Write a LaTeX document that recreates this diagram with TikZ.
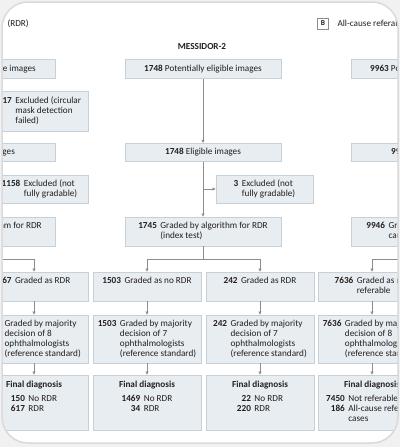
\documentclass[tikz,border=0pt]{standalone}
\usepackage{fontspec}
\setmainfont{Carlito}
\usetikzlibrary{arrows.meta}
\definecolor{bxfill}{RGB}{231,237,240}
\definecolor{bxdraw}{RGB}{198,208,214}
\definecolor{ln}{RGB}{140,140,140}
\definecolor{txt}{RGB}{35,31,32}
\definecolor{outer}{RGB}{241,241,241}
\definecolor{cardline}{RGB}{218,218,218}
\newcommand{\tb}[1]{\begin{tabular}[t]{@{}r@{\hspace{3.5pt}}l@{}}#1\end{tabular}}
\begin{document}
\begin{tikzpicture}[x=1pt,y=-1pt,
  every node/.style={font=\fontsize{9.2}{10}\selectfont, text=txt},
  bx/.style={draw=bxdraw, fill=bxfill, line width=0.8pt, inner sep=0pt},
  wide/.style={bx, minimum width=156pt, minimum height=18.5pt},
  tall/.style={bx, minimum width=156pt, minimum height=29pt},
  exc/.style={bx, minimum width=97pt, minimum height=28pt},
  col/.style={bx, minimum width=108pt},
  conn/.style={draw=ln, line width=0.6pt},
  arr/.style={conn, -{Triangle[length=3pt,width=3pt]}}
]
\useasboundingbox (0,0) rectangle (400,447);
\fill[outer] (0,0) rectangle (400,447);
\fill[white, rounded corners=26pt] (2,2) rectangle (398,443);
\begin{scope}
\clip[rounded corners=26pt] (2,2) rectangle (398,443);
% header
\node[anchor=base west] (hA) at (4,27) {(RDR)};
\node[draw=ln, fill=white, line width=0.6pt, inner sep=0pt, minimum size=11pt, font=\fontsize{7.5}{9}\selectfont\bfseries] (hB) at (323,23.5) {B};
\node[anchor=base west] (hBt) at (334,27) {All-cause referable DR};
\node[font=\fontsize{9.2}{10}\selectfont\bfseries] (title) at (202,47) {MESSIDOR-2};
% row 1
\node[wide] (L1) at (-23,69) {\phantom{\textbf{0000}} Potentially eligible images};
\node[wide] (M1) at (203,69) {\textbf{1748} Potentially eligible images};
\node[wide] (R1) at (429,69) {\textbf{9963} Potentially eligible images};
\node[exc, minimum height=40pt] (LX1) at (39.5,111) {\tb{\phantom{\textbf{0}}\textbf{17} & Excluded (circular\\ & mask detection\\ & failed)}};
% row 2
\node[wide] (L2) at (-23,152.5) {\phantom{\textbf{0000}} Eligible images};
\node[wide] (M2) at (203,152.5) {\textbf{1748} Eligible images};
\node[wide] (R2) at (429,152.5) {\textbf{9963} Eligible images};
\node[exc] (LX2) at (39.5,189) {\tb{\textbf{1158} & Excluded (not\\ & fully gradable)}};
\node[exc] (MX2) at (264.5,189) {\tb{\textbf{3} & Excluded (not\\ & fully gradable)}};
% row 3
\node[tall] (L3) at (-23,231.5) {\tb{\phantom{\textbf{0000}} & Graded by algorithm for RDR\\ & (index test)}};
\node[tall] (M3) at (203,231.5) {\tb{\textbf{1745} & Graded by algorithm for RDR\\ & (index test)}};
\node[tall] (R3) at (429,231.5) {\tb{\textbf{9946} & Graded by algorithm for all-\\ & cause referable DR}};
% row 4
\node[col, minimum height=29pt] (L4) at (34,286.5) {\tb{\phantom{\textbf{0}}\textbf{67} & Graded as RDR\\ & }};
\node[col, minimum height=29pt] (B4) at (147,286.5) {\tb{\textbf{1503} & Graded as no RDR\\ & }};
\node[col, minimum height=29pt] (C4) at (260,286.5) {\tb{\textbf{242} & Graded as RDR\\ & }};
\node[col, minimum height=29pt] (R4) at (372,286.5) {\tb{\textbf{7636} & Graded as not\\ & referable}};
% row 5
\node[col, minimum height=48pt] (L5) at (34,339) {\tb{\phantom{\textbf{767}} & Graded by majority\\ & decision of 8\\ & ophthalmologists\\ & (reference standard)}};
\node[col, minimum height=48pt] (B5) at (147,339) {\tb{\textbf{1503} & Graded by majority\\ & decision of 7\\ & ophthalmologists\\ & (reference standard)}};
\node[col, minimum height=48pt] (C5) at (260,339) {\tb{\textbf{242} & Graded by majority\\ & decision of 7\\ & ophthalmologists\\ & (reference standard)}};
\node[col, minimum height=48pt] (R5) at (372,339) {\tb{\textbf{7636} & Graded by majority\\ & decision of 8\\ & ophthalmologists\\ & (reference standard)}};
% row 6
\node[col, minimum height=55pt, align=center] (L6) at (34,402.5) {\textbf{Final diagnosis}\\[4pt]\tb{\textbf{150} & No RDR\\ \textbf{617} & RDR\\ & }};
\node[col, minimum height=55pt, align=center] (B6) at (147,402.5) {\textbf{Final diagnosis}\\[4pt]\tb{\textbf{1469} & No RDR\\ \textbf{34} & RDR\\ & }};
\node[col, minimum height=55pt, align=center] (C6) at (260,402.5) {\textbf{Final diagnosis}\\[4pt]\tb{\textbf{22} & No RDR\\ \textbf{220} & RDR\\ & }};
\node[col, minimum height=55pt, align=center] (R6) at (372,402.5) {\textbf{Final diagnosis}\\[4pt]\tb{\textbf{7450} & Not referable\\ \textbf{186} & All-cause referable\\ & cases}};
% connectors: middle
\draw[arr] (M1.south) -- (M2.north);
\draw[arr] (M2.south) -- (M3.north);
\draw[arr] (M2.south |- MX2.west) -- (MX2.west);
\draw[conn] (M3.south) -- ++(0,13) coordinate (ms);
\draw[arr] (ms) -| (B4.north);
\draw[arr] (ms) -| (C4.north);
\draw[arr] (B4.south) -- (B5.north);
\draw[arr] (B5.south) -- (B6.north);
\draw[arr] (C4.south) -- (C5.north);
\draw[arr] (C5.south) -- (C6.north);
% left
\draw[arr] (L1.south) -- (L2.north);
\draw[arr] (L1.south |- LX1.west) -- (LX1.west);
\draw[arr] (L2.south) -- (L3.north);
\draw[arr] (L2.south |- LX2.west) -- (LX2.west);
\draw[conn] (L3.south) -- ++(0,13) coordinate (ls);
\draw[arr] (ls) -| (L4.north);
\draw[arr] (L4.south) -- (L5.north);
\draw[arr] (L5.south) -- (L6.north);
% right
\draw[arr] (R1.south) -- (R2.north);
\draw[arr] (R2.south) -- (R3.north);
\draw[conn] (R3.south) -- ++(0,13) coordinate (rs);
\draw[arr] (rs) -| (R4.north);
\draw[arr] (R4.south) -- (R5.north);
\draw[arr] (R5.south) -- (R6.north);
\end{scope}
\draw[cardline, line width=1.5pt, rounded corners=26pt] (2,2) rectangle (398,443);
\end{tikzpicture}
\end{document}
